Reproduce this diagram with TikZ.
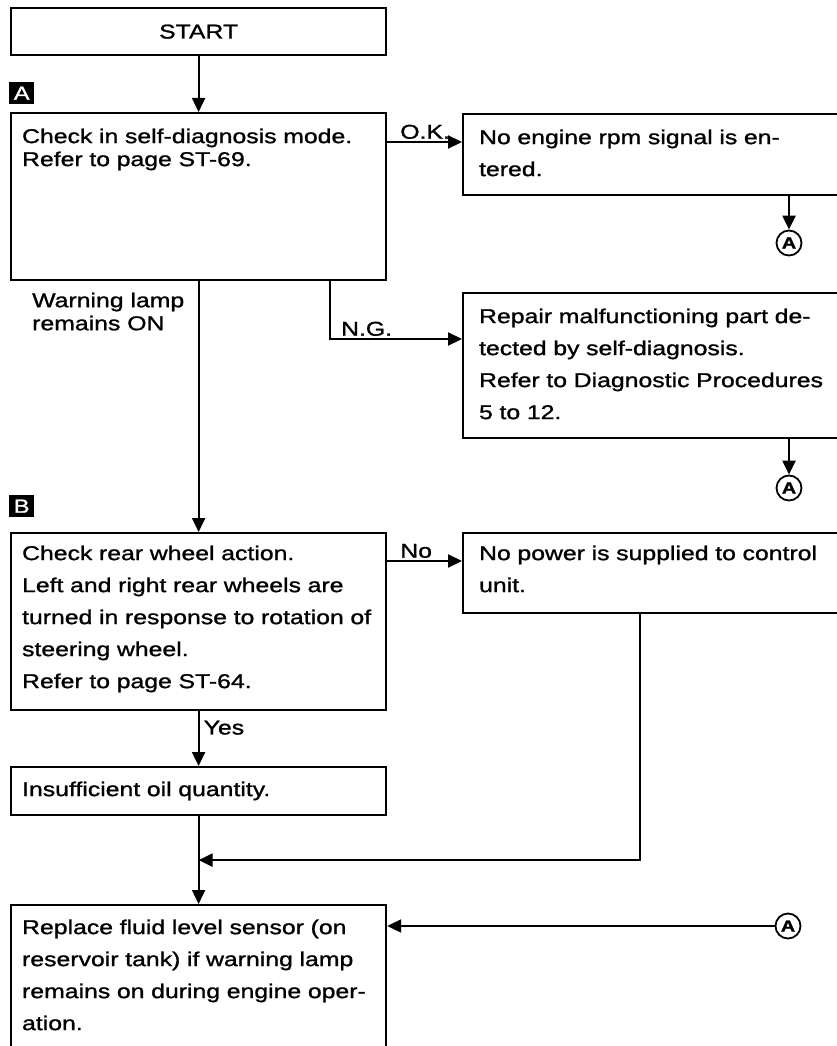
\documentclass[tikz,border=0pt]{standalone}
\usepackage{fontspec}
\setmainfont{Liberation Sans}[FakeStretch=1.24, FakeBold=1.2]
\usetikzlibrary{arrows.meta,positioning,calc}
\tikzset{
  blk/.style={draw, line width=2.2pt, anchor=north west, inner xsep=11pt, inner ysep=0pt, align=left, font=\fontsize{20}{32}\selectfont},
  blkl/.style={blk, text width=353pt},
  blkr/.style={blk, inner xsep=16pt, text width=346pt},
  ar/.style={-{Triangle[length=14pt,width=13pt]}, line width=2.2pt},
  lbl/.style={font=\fontsize{20}{23}\selectfont, inner sep=2pt, align=left},
  mrk/.style={fill=black, text=white, anchor=north west, minimum width=25pt, minimum height=22pt, inner sep=0pt, font=\fontsize{19}{19}\selectfont},
  conn/.style={draw, circle, line width=1.8pt, minimum size=25pt, inner sep=0pt, font=\bfseries\fontsize{16}{16}\selectfont},
}
\begin{document}
\begin{tikzpicture}[x=1pt, y=-1pt]
    \useasboundingbox (0,0) rectangle (836,1046);
    % left column
    \node[blk, minimum width=375pt, minimum height=47pt, align=center, inner sep=0pt] (start) at (10,7) {START};
    \node[mrk] (mrkA) at (9,82) {A};
    \node[blkl, text height=30pt, text depth=137pt, font=\fontsize{20}{23}\selectfont] (chk) at (10,112) {Check in self-diagnosis mode.\\Refer to page ST-69.};
    \node[lbl, anchor=north west, inner sep=0pt, text height=38pt] (warn) at (32,292) {Warning lamp\\remains ON};
    \node[mrk] (mrkB) at (9,495) {B};
    \node[blkl, text height=27pt, text depth=150pt] (wheel) at (10,532) {Check rear wheel action.\\Left and right rear wheels are\\turned in response to rotation of\\steering wheel.\\Refer to page ST-64.};
    \node[blkl, text height=29pt, text depth=19pt] (insuf) at (10,766) {Insufficient oil quantity.};
    \node[blkl, text height=29pt, text depth=119pt] (final) at (10,904) {Replace fluid level sensor (on\\reservoir tank) if warning lamp\\remains on during engine oper-\\ation.};
    % right column
    \node[blkr, text height=30pt, text depth=51pt] (noRpm) at (462,113) {No engine rpm signal is en-\\tered.};
    \node[conn] (cA1) at (789,243) {A};
    \node[blkr, text height=30pt, text depth=115pt] (repair) at (462,292) {Repair malfunctioning part de-\\tected by self-diagnosis.\\Refer to Diagnostic Procedures\\5 to 12.};
    \node[conn] (cA2) at (789,488) {A};
    \node[blkr, text height=27pt, text depth=53pt] (power) at (462,532) {No power is supplied to control\\unit.};
    \node[conn] (cA3) at (788,926) {A};
    % connectors
    \coordinate (okA) at ([yshift=-30pt]chk.north east);
    \coordinate (noA) at ([yshift=-29pt]wheel.north east);
    \coordinate (join) at ($(insuf.south)!0.5!(final.north)$);
    \draw[ar] (start) -- (chk);
    \draw[ar] (okA) -- (okA -| noRpm.west) node[lbl, pos=0, anchor=south west, xshift=10pt] {O.K.};
    \draw[ar] (noRpm.south -| cA1) -- (cA1);
    \draw[ar] ([xshift=320pt]chk.south west) |- ([yshift=-47pt]repair.north west) node[lbl, pos=0.5, anchor=south west, xshift=8pt] {N.G.};
    \draw[ar] (repair.south -| cA2) -- (cA2);
    \draw[ar] (chk) -- (wheel);
    \draw[ar] (noA) -- (noA -| power.west) node[lbl, pos=0, anchor=south west, xshift=10pt] {No};
    \draw[ar] (wheel) -- (insuf) node[lbl, pos=0.3, right, xshift=2pt] {Yes};
    \draw[ar] (insuf) -- (final);
    \draw[ar] ([xshift=178pt]power.south west) |- (join);
    \draw[ar] (cA3) -- (cA3 -| final.east);
\end{tikzpicture}
\end{document}
